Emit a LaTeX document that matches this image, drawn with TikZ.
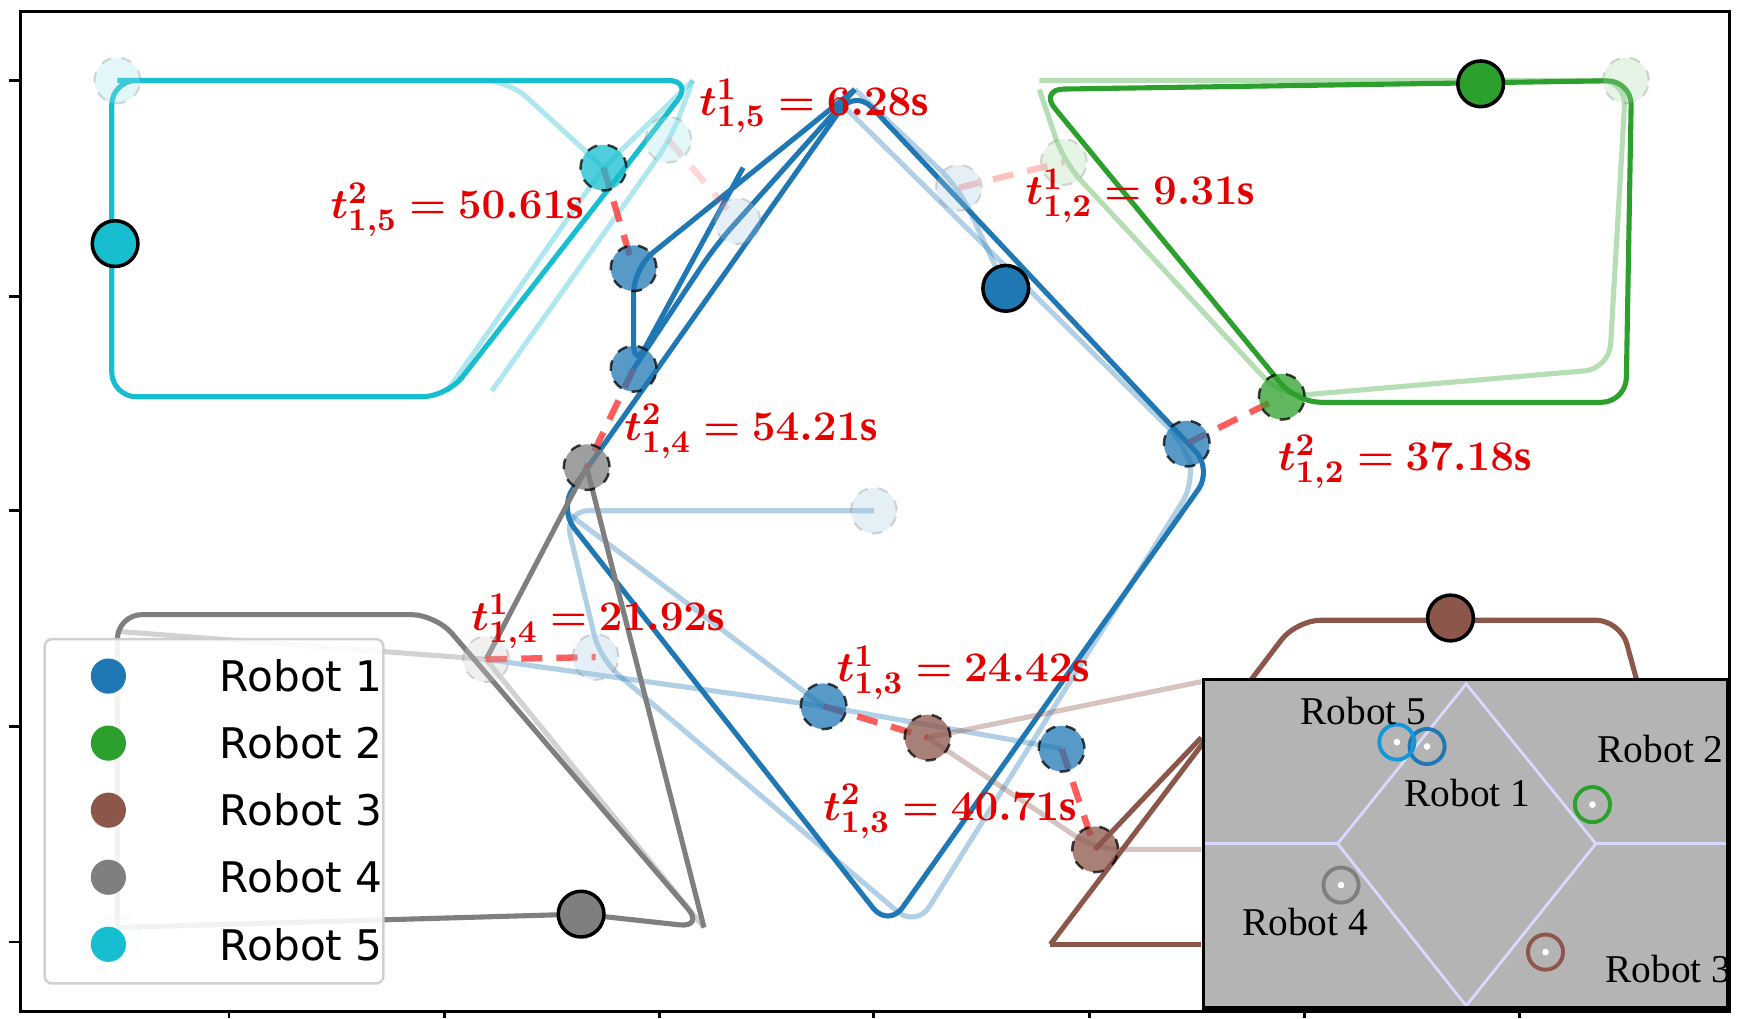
\documentclass[tikz,border=0pt]{standalone}
\usepackage{fontspec}
\usepackage{amsmath,bm}
\setmainfont{Liberation Serif}
\newfontfamily\legfont{DejaVu Sans}
\usetikzlibrary{positioning, calc}
\definecolor{rOne}{RGB}{31,119,180}
\definecolor{rTwo}{RGB}{44,160,44}
\definecolor{rThree}{RGB}{140,86,75}
\definecolor{rFour}{RGB}{127,127,127}
\definecolor{rFive}{RGB}{23,190,207}
\definecolor{insetgray}{RGB}{180,180,180}
\tikzset{
  traj/.style={line width=1.45pt, rounded corners=7pt},
  faint/.style={traj, opacity=0.35},
  now/.style={circle, draw=black, line width=1pt, minimum size=13pt, inner sep=0pt},
  past/.style={circle, draw=black, dashed, line width=0.7pt, minimum size=13pt, inner sep=0pt, opacity=0.75},
  ghost/.style={circle, draw=gray, dashed, line width=0.6pt, minimum size=13pt, inner sep=0pt, opacity=0.3},
  meet/.style={red!80, dash pattern=on 6pt off 4pt, line width=1.8pt, opacity=0.8},
  tlabel/.style={red!90!black, font=\fontsize{12.5}{14}\selectfont, inner sep=1pt},
  robot/.style={circle, draw, line width=1.1pt, minimum size=10pt, inner sep=0pt},
  rname/.style={font=\fontsize{11.2}{13}\selectfont}
}
\begin{document}
\begin{tikzpicture}[x=0.011175cm, y=-0.011175cm]
\useasboundingbox (0,0) rectangle (1566,911);
% frame and ticks
\draw[line width=0.8pt] (18,10) rectangle (1548,905);
\foreach \y in {72,265,457,650,843} \draw[line width=0.8pt] (8,\y) -- (18,\y);
\foreach \x in {205,398,590,782,975,1167,1360} \draw[line width=0.8pt] (\x,905) -- (\x,911);

% Robot 5
\draw[traj, rFive] (105,72) -- (620,72) -- (400,355) -- (100,355) -- (100,72) -- (105,72);
\draw[faint, rFive] (620,72) -- (540,150) -- (400,350);
\draw[faint, rFive] (620,72) -- (600,125) -- (440,350);
\draw[faint, rFive] (105,72) -- (455,72) -- (540,150);
% Robot 1
\draw[traj, rOne] (765,80) -- (1085,420) -- (795,830) -- (500,455) -- cycle;
\draw[traj, rOne] (765,80) -- (567,240) -- (567,330) -- (665,150);
\draw[traj, rOne] (567,330) -- (640,220) -- (765,80);
\draw[faint, rOne] (745,85) -- (1060,397) -- (1070,430) -- (820,830) -- (537,590) -- (505,457) -- (782,457);
\draw[faint, rOne] (765,80) -- (858,168) -- (900,258);
\draw[faint, rOne] (505,457) -- (737,632);
\draw[faint, rOne] (435,590) -- (737,632) -- (950,670);
% Robot 2
\draw[traj, rTwo] (930,80) -- (1460,72) -- (1455,360) -- (1160,360) -- cycle;
\draw[faint, rTwo] (930,72) -- (1455,72) -- (1440,330) -- (1147,355) -- (952,145) -- (930,80);
% Robot 3
\draw[traj, rThree] (940,845) -- (1160,555) -- (1450,555) -- (1465,610);
\draw[traj, rThree] (940,845) -- (1075,845);
\draw[traj, rThree] (980,760) -- (1075,660);
\draw[faint, rThree] (830,660) -- (1075,610);
\draw[faint, rThree] (830,660) -- (980,760) -- (1075,760);
% Robot 4
\draw[traj, rFour] (105,830) -- (520,818) -- (630,830) -- (390,550) -- (105,550) -- (105,830);
\draw[traj, rFour] (525,418) -- (630,830);
\draw[traj, rFour] (525,418) -- (435,590);
\draw[faint, rFour] (435,590) -- (630,830);
\draw[faint, rFour] (105,565) -- (435,590);

% meeting lines
\draw[meet] (540,150) -- (567,240);
\draw[meet] (567,330) -- (525,418);
\draw[meet] (435,590) -- (533,588);
\draw[meet] (737,632) -- (830,660);
\draw[meet] (950,670) -- (980,760);
\draw[meet] (1062,397) -- (1147,355);
\draw[meet, opacity=0.3] (858,168) -- (952,145);
\draw[meet, opacity=0.2] (598,125) -- (660,198);

% past positions
\foreach \name/\x/\y/\col in {pa/540/150/rFive, pb/567/240/rOne, pc/567/330/rOne, pd/525/418/rFour,
  pe/1062/397/rOne, pf/1147/355/rTwo, pg/737/632/rOne, ph/830/660/rThree, pi/950/670/rOne, pj/980/760/rThree}
  \node[past, fill=\col] (\name) at (\x,\y) {};
\foreach \name/\x/\y/\col in {ga/105/72/rFive, gb/598/125/rFive, gc/660/198/rOne, gd/858/168/rOne,
  ge/952/145/rTwo, gf/1455/72/rTwo, gg/782/457/rOne, gh/435/590/rFour, gi/533/588/rOne, gj/105/840/rFive}
  \node[ghost, fill=\col!40] (\name) at (\x,\y) {};
% current positions
\foreach \name/\x/\y/\col in {nf/103/218/rFive, na/900/258/rOne, nb/1325/75/rTwo, nc/1298/553/rThree, nd/520/818/rFour}
  \node[now, fill=\col] (\name) at (\x,\y) {};

% labels
\node[tlabel, anchor=west] at (622,95) {$\bm{t^1_{1,5} = 6.28}$\textbf{s}};
\node[tlabel, anchor=west] at (292,188) {$\bm{t^2_{1,5} = 50.61}$\textbf{s}};
\node[tlabel, anchor=west] at (914,175) {$\bm{t^1_{1,2} = 9.31}$\textbf{s}};
\node[tlabel, anchor=west] at (555,386) {$\bm{t^2_{1,4} = 54.21}$\textbf{s}};
\node[tlabel, anchor=west] at (1140,413) {$\bm{t^2_{1,2} = 37.18}$\textbf{s}};
\node[tlabel, anchor=west] at (418,556) {$\bm{t^1_{1,4} = 21.92}$\textbf{s}};
\node[tlabel, anchor=west] at (745,602) {$\bm{t^1_{1,3} = 24.42}$\textbf{s}};
\node[tlabel, anchor=west] at (733,726) {$\bm{t^2_{1,3} = 40.71}$\textbf{s}};

% legend
\draw[gray!40, fill=white, opacity=0.9, rounded corners=2pt, line width=0.7pt] (40,572) rectangle (343,880);
\foreach \y/\col/\num in {605/rOne/1, 665/rTwo/2, 725/rThree/3, 785/rFour/4, 845/rFive/5} {
  \node[circle, fill=\col, minimum size=10pt, inner sep=0pt] (leg\num) at (97,\y) {};
  \node[right=23pt of leg\num, anchor=west, font=\legfont\fontsize{12}{14}\selectfont] {Robot \num};
}

% inset
\fill[insetgray] (1077,608) rectangle (1546,902);
\draw[white!85!blue, line width=0.8pt] (1312,612) -- (1428,755) -- (1312,900) -- (1197,755) -- cycle;
\draw[white!85!blue, line width=0.8pt] (1077,755) -- (1197,755) (1428,755) -- (1546,755);
\draw[line width=1pt] (1077,608) rectangle (1546,902);
\foreach \name/\x/\y/\col in {ia/1277/668/rOne, ib/1425/720/rTwo, ic/1383/852/rThree, id/1200/792/rFour, ie/1250/664/rFive!80!blue} {
  \node[robot, draw=\col] (\name) at (\x,\y) {};
  \fill[white] (\x,\y) circle (3);
}
\node[rname] at (1220,636) {Robot 5};
\node[rname] at (1313,710) {Robot 1};
\node[rname] at (1486,670) {Robot 2};
\node[rname] at (1168,825) {Robot 4};
\node[rname] at (1493,867) {Robot 3};
\end{tikzpicture}
\end{document}
